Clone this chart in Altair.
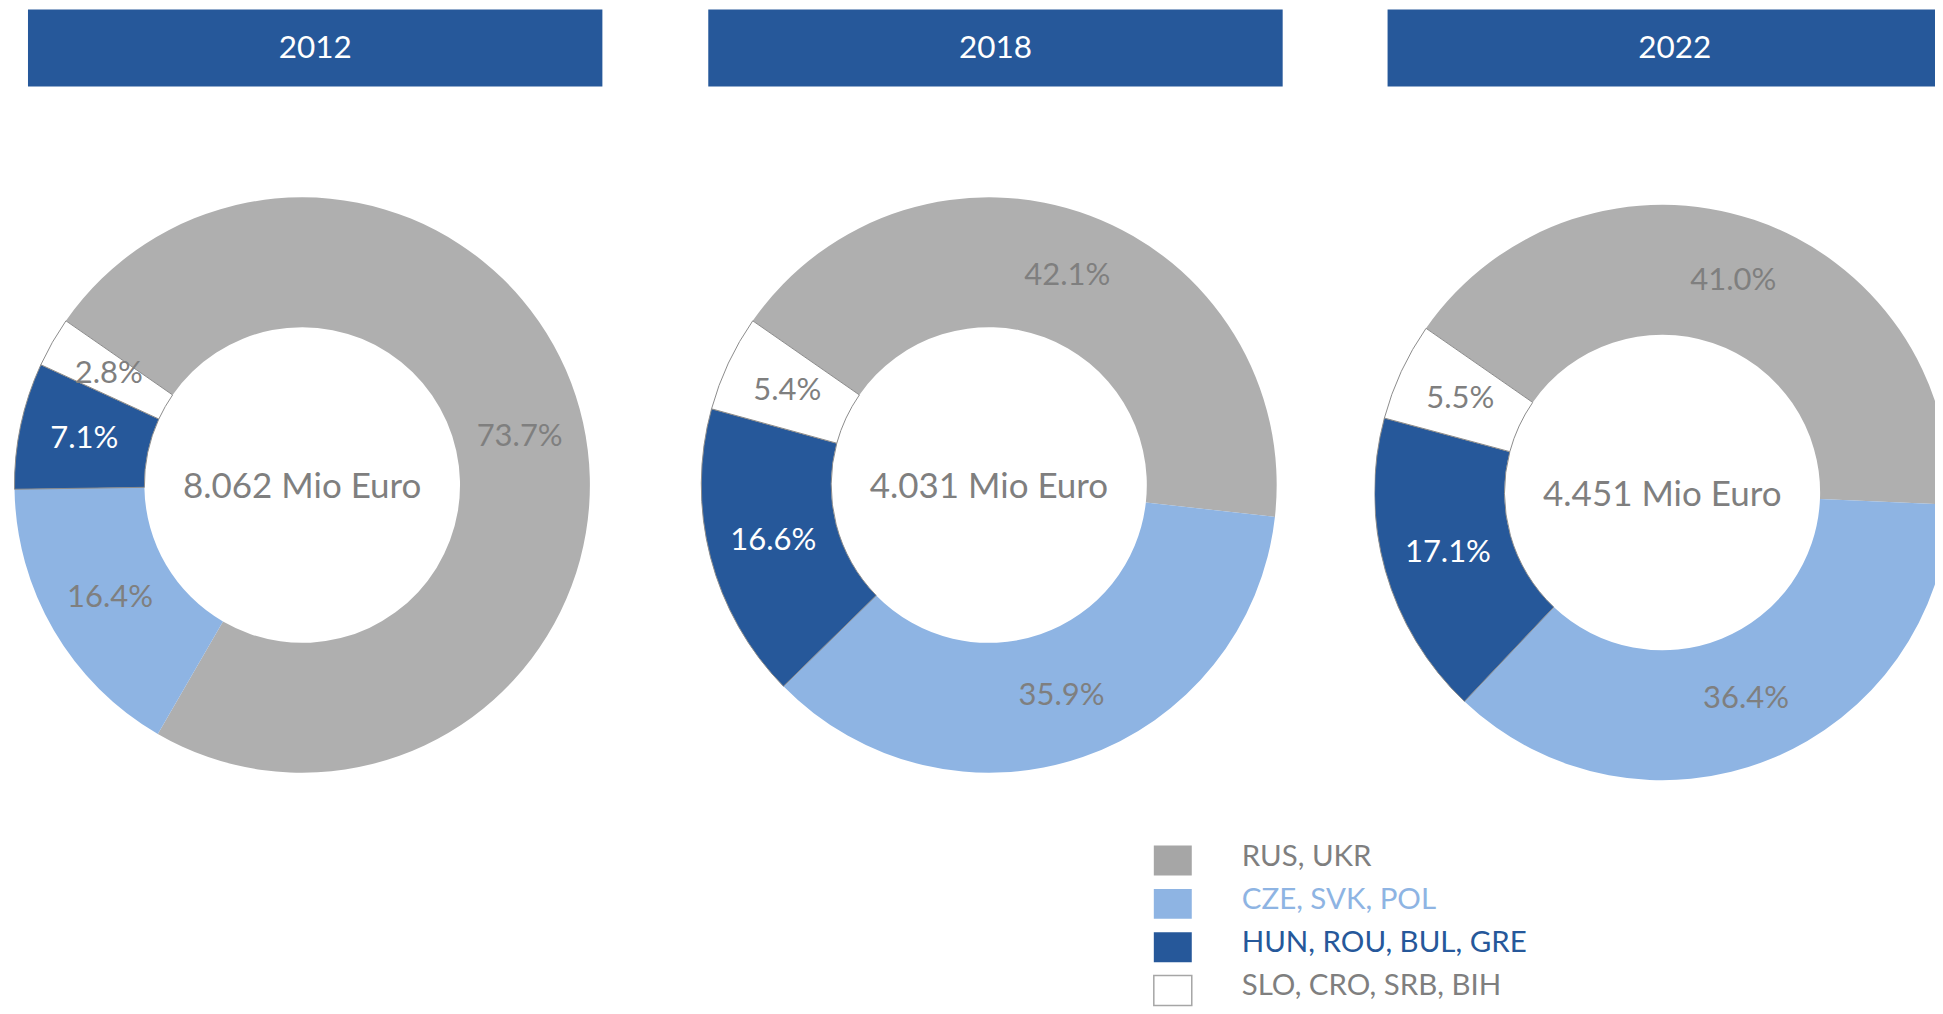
import math
import altair as alt
import pandas as pd

# ---------------- data ----------------
years = ["2012", "2018", "2022"]
groups = ["RUS, UKR", "CZE, SVK, POL", "HUN, ROU, BUL, GRE", "SLO, CRO, SRB, BIH"]
share_2012 = [73.7, 16.4, 7.1, 2.8]
share_2018 = [42.1, 35.9, 16.6, 5.4]
share_2022 = [41.0, 36.4, 17.1, 5.5]
total_labels = ["8.062 Mio Euro", "4.031 Mio Euro", "4.451 Mio Euro"]
shares = [share_2012, share_2018, share_2022]

# ---------------- style ----------------
slice_colors = ["#afafaf", "#8eb4e3", "#26589a", "#ffffff"]
legend_box_colors = ["#a6a6a6", "#8eb4e3", "#26589a", "#ffffff"]
legend_text_colors = ["#7f7f7f", "#8eb4e3", "#26589a", "#7f7f7f"]
HEADER = "#26589a"
GREY_TXT = "#7f7f7f"
FONT = "Lato"

PANEL_H = 997
HEADER_H = 77
HEADER_W = 575
START = -55.2 * math.pi / 180
# per panel layout
panel_w = [575, 561, 561]
header_x0 = [0, 0, 13]
header_x1 = [575, 575, 561]
centers = [(274.5, 476), (281, 476), (288, 483.5)]
clips = [False, False, True]
R_OUT, R_IN, R_LBL = 288, 158, 223


def panel(i):
    year = years[i]
    cx, cy = centers[i]
    W = panel_w[i]
    df = pd.DataFrame({"group": groups, "share": shares[i], "idx": list(range(len(groups)))})
    base = alt.Chart(df)
    theta = alt.Theta(
        "share:Q", stack=True,
        scale=alt.Scale(domain=[0, 100], range=[START, START + 2 * math.pi]),
    )
    color = alt.Color("group:N", scale=alt.Scale(domain=groups, range=slice_colors), legend=None)

    arcs = base.mark_arc(innerRadius=R_IN, outerRadius=R_OUT, stroke="#8c8c8c", clip=clips[i]).encode(
        theta=theta,
        color=color,
        order=alt.Order("idx:Q"),
        strokeWidth=alt.condition("datum.idx >= 2", alt.value(1), alt.value(0)),
        x=alt.value(cx),
        y=alt.value(cy),
    )
    labels = base.transform_calculate(
        lbl="format(datum.share, '.1f') + '%'"
    ).mark_text(radius=R_LBL, font=FONT, fontSize=31, baseline="middle").encode(
        theta=theta,
        order=alt.Order("idx:Q"),
        text="lbl:N",
        color=alt.condition("datum.idx == 2", alt.value("white"), alt.value(GREY_TXT)),
        x=alt.value(cx),
        y=alt.value(cy),
    )
    info = alt.Chart(pd.DataFrame({"year": [year], "total": [total_labels[i]]}))
    x0 = header_x0[i]
    hdr = info.mark_rect(color=HEADER).encode(
        x=alt.value(x0), x2=alt.value(header_x1[i]), y=alt.value(0), y2=alt.value(HEADER_H)
    )
    hdr_txt = info.mark_text(color="white", font=FONT, fontSize=31.5, baseline="middle").encode(
        text="year:N", x=alt.value(x0 + HEADER_W / 2), y=alt.value(HEADER_H / 2 + 1)
    )
    center_txt = info.mark_text(color=GREY_TXT, font=FONT, fontSize=35, baseline="middle").encode(
        text="total:N", x=alt.value(cx), y=alt.value(cy + 2)
    )
    layers = [hdr, hdr_txt, arcs, labels, center_txt]

    if i == 1:
        leg_df = pd.DataFrame({"group": groups, "idx": list(range(len(groups)))})
        ly = alt.Y(
            "group:N", sort=groups, axis=None,
            scale=alt.Scale(domain=groups, range=[830.3, 1003.6], paddingInner=0.307, paddingOuter=0.1535),
        )
        leg_box = alt.Chart(leg_df).mark_rect(stroke="#a6a6a6").encode(
            y=ly,
            x=alt.value(446), x2=alt.value(484),
            color=alt.Color("group:N", scale=alt.Scale(domain=groups, range=legend_box_colors), legend=None),
            strokeWidth=alt.condition("datum.idx == 3", alt.value(1.5), alt.value(0)),
        )
        leg_txt = alt.Chart(leg_df).mark_text(
            font=FONT, fontSize=29.5, align="left", baseline="middle", dy=-4
        ).encode(
            y=ly,
            x=alt.value(534),
            text="group:N",
            fill=alt.Fill("group:N", scale=alt.Scale(domain=groups, range=legend_text_colors), legend=None),
        )
        layers += [leg_box, leg_txt]
        return alt.layer(*layers).resolve_scale(color="independent").properties(width=W, height=PANEL_H)

    return alt.layer(*layers).properties(width=W, height=PANEL_H)


chart = alt.hconcat(panel(0), panel(1), panel(2), spacing=106, bounds="flush").properties(
    padding={"left": 4, "top": 1, "right": 0, "bottom": 0}
).configure_view(stroke=None)

chart.save("out.html", embed_options={"renderer": "svg", "actions": False})
